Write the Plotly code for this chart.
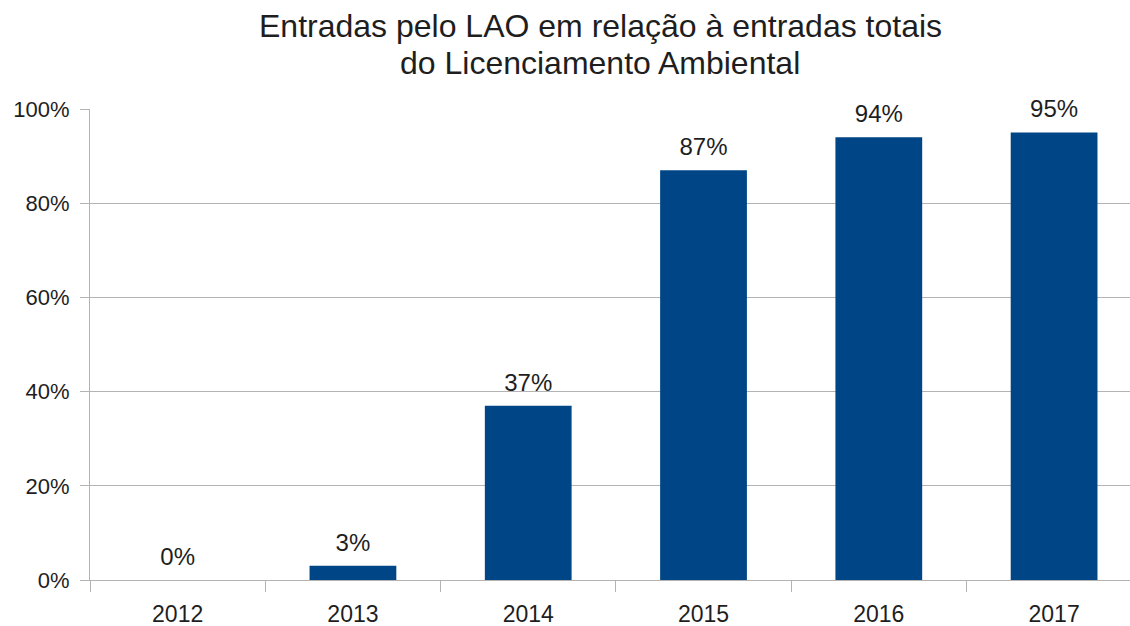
import plotly.graph_objects as go

# Share of LAO entries in total environmental licensing entries, per year
years = ["2012", "2013", "2014", "2015", "2016", "2017"]
share_pct = [0, 3, 37, 87, 94, 95]
y_ticks = [0, 20, 40, 60, 80, 100]
title_lines = ["Entradas pelo LAO em relação à entradas totais", "do Licenciamento Ambiental"]

BAR = "#004586"
GRID = "#b3b3b3"
TXT = "#1e1e1e"
FONT = "Liberation Sans, Arial, sans-serif"

fig = go.Figure()
fig.add_trace(
    go.Bar(
        x=years,
        y=share_pct,
        marker=dict(color=BAR, line=dict(width=0)),
        width=0.495,
        hoverinfo="skip",
    )
)
# value labels above each bar (invisible markers push the text up)
fig.add_trace(
    go.Scatter(
        x=years,
        y=share_pct,
        mode="markers+text",
        marker=dict(size=13, opacity=0),
        text=[f"{v}%" for v in share_pct],
        textposition="top center",
        textfont=dict(family=FONT, size=24, color=TXT),
        hoverinfo="skip",
        cliponaxis=False,
    )
)

# two-line chart title, one annotation per line for tighter spacing
for line, bottom_px in zip(title_lines, [46, 83]):
    fig.add_annotation(
        text=line,
        xref="paper", yref="paper",
        x=(600 - 90) / 1040, y=1 + (109 - bottom_px) / 471,
        xanchor="center", yanchor="bottom",
        showarrow=False, align="center",
        font=dict(family=FONT, size=32, color=TXT),
    )

fig.update_layout(
    width=1130, height=626,
    margin=dict(l=90, r=0, t=109, b=46),
    paper_bgcolor="white", plot_bgcolor="white",
    showlegend=False,
    font=dict(family=FONT, color=TXT),
)

fig.update_xaxes(
    type="category",
    range=[-0.5, 5.433],
    showgrid=False,
    showline=True, linecolor=GRID, linewidth=1,
    ticks="outside", tickson="boundaries", ticklen=11, tickcolor=GRID, tickwidth=1,
    ticklabelstandoff=13,
    tickfont=dict(family=FONT, size=23, color=TXT),
    fixedrange=True,
)

fig.update_yaxes(
    range=[0, 100],
    tickvals=y_ticks,
    ticktext=[f"{t}%" for t in y_ticks],
    showgrid=True, gridcolor=GRID, gridwidth=1,
    zeroline=False,
    showline=True, linecolor=GRID, linewidth=1,
    ticks="outside", ticklen=9, tickcolor=GRID, tickwidth=1,
    ticklabelstandoff=6,
    tickfont=dict(family=FONT, size=22, color=TXT),
    fixedrange=True,
)

fig.write_html("out.html", config={"displayModeBar": False})
